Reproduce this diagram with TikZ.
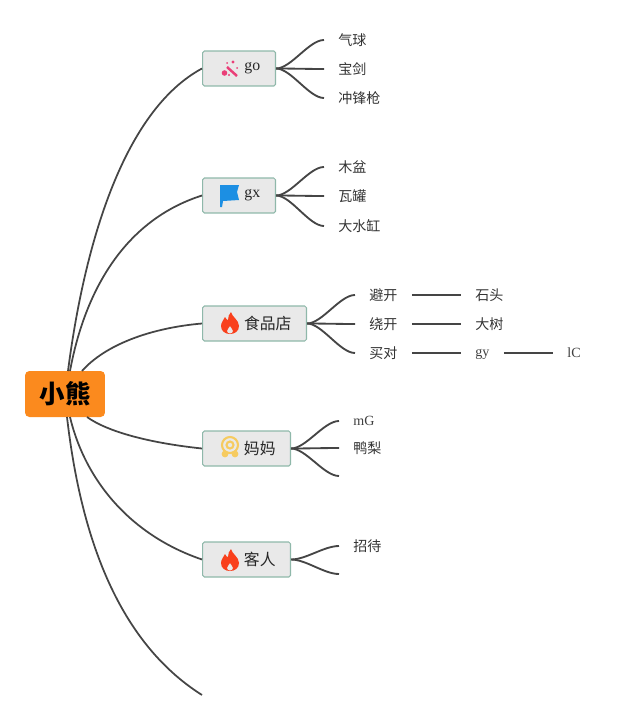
\documentclass[tikz,border=0pt]{standalone}
\usepackage{fontspec}
\setmainfont{Liberation Serif}
\newfontfamily\cjk{Noto Sans CJK SC}
\usepackage{xcolor}
\usetikzlibrary{calc}
\definecolor{rootorange}{HTML}{FB8A1E}
\definecolor{boxgray}{HTML}{E9E9E9}
\definecolor{boxgreen}{HTML}{8FB8AA}
\definecolor{linegray}{HTML}{454545}
\definecolor{flamered}{HTML}{F9401C}
\definecolor{wandpink}{HTML}{EA3F78}
\definecolor{flagblue}{HTML}{1C8FE3}
\definecolor{badgeyellow}{HTML}{F6CB60}
\tikzset{
  rootbox/.style={draw=none,fill=rootorange,rounded corners=2.5pt,minimum width=1.6cm,minimum height=0.92cm,inner sep=0pt,font=\cjk\bfseries\fontsize{14.5}{16}\selectfont,text=black},
  topic/.style={draw=boxgreen,fill=boxgray,line width=0.6pt,rounded corners=1pt,minimum height=0.7cm,inner ysep=0pt,inner xsep=0pt,anchor=west,align=left,font=\cjk\fontsize{9}{11}\selectfont,text=black!85},
  leaf/.style={inner xsep=0.28cm,inner ysep=1pt,anchor=west,font=\cjk\fontsize{8}{10}\selectfont,text=black!80},
  latin/.style={font=\fontsize{8}{10}\selectfont,text=black!75,text depth=0pt},
  limb/.style={draw=linegray,line width=1pt},
  twig/.style={draw=linegray,line width=1.05pt}
}
\newcommand{\flameicon}[1]{
  \fill[flamered,shift={(#1)},even odd rule] (1,-11) .. controls (2,-6) and (9,-3) .. (9,3) .. controls (9,8) and (5,11) .. (0,11) .. controls (-5,11) and (-9,8) .. (-9,3) .. controls (-9,-1) and (-6,-3) .. (-5,-6) .. controls (-4,-4) and (-3,-3) .. (-2,-3) .. controls (-2,-6) and (-1,-9) .. (1,-11) -- cycle
    (0,3) .. controls (1,5) and (3,6) .. (3,8) .. controls (3,10) and (1.5,10.5) .. (0,10.5) .. controls (-1.5,10.5) and (-3,10) .. (-3,8) .. controls (-3,6) and (-1,5) .. (0,3) -- cycle;
}
\begin{document}
\begin{tikzpicture}[x=0.02cm,y=-0.02cm]
\useasboundingbox (0,0) rectangle (640,720);
% main boxes
\node[rootbox] (bear) at (65,394) {小熊};
\node[topic,minimum width=1.46cm] (go) at (202,68.5) {\hspace{0.53cm}{\rmfamily go}};
\node[topic,minimum width=1.46cm] (gx) at (202,195.5) {\hspace{0.53cm}{\rmfamily gx}};
\node[topic,minimum width=2.08cm] (shop) at (202,323.5) {\hspace{0.53cm}食品店};
\node[topic,minimum width=1.76cm] (mom) at (202,448.5) {\hspace{0.53cm}妈妈};
\node[topic,minimum width=1.76cm] (guest) at (202,559.5) {\hspace{0.53cm}客人};
\coordinate (spare) at (202,695);
% leaves
\node[leaf] (balloon) at (324,40) {气球};
\node[leaf] (sword) at (324,69) {宝剑};
\node[leaf] (rifle) at (324,98) {冲锋枪};
\node[leaf] (basin) at (324,167) {木盆};
\node[leaf] (jar) at (324,196) {瓦罐};
\node[leaf] (vat) at (324,226) {大水缸};
\node[leaf] (dodge) at (355,295) {避开};
\node[leaf] (around) at (355,324) {绕开};
\node[leaf] (buy) at (355,353) {买对};
\node[leaf] (stone) at (461,295) {石头};
\node[leaf] (tree) at (461,324) {大树};
\node[leaf,latin] (gy) at (461,353) {gy};
\node[leaf,latin] (lc) at (553,353) {lC};
\node[leaf,latin] (mg) at (339,421) {mG};
\node[leaf] (duck) at (339,448) {鸭梨};
\coordinate (momend) at (339,476);
\node[leaf] (host) at (339,546) {招待};
\coordinate (guestend) at (339,574);
% limbs
\draw[limb] (68,371) .. controls (85,240) and (125,110) .. (go.west);
\draw[limb] (70,371) .. controls (85,290) and (125,220) .. (gx.west);
\draw[limb] (82,371) .. controls (105,345) and (150,328) .. (shop.west);
\draw[limb] (87,417) .. controls (108,432) and (150,443) .. (mom.west);
\draw[limb] (70,417) .. controls (85,480) and (130,535) .. (guest.west);
\draw[limb] (67,417) .. controls (80,530) and (115,640) .. (spare);
% twigs
\foreach \leafname in {balloon,sword,rifle}
  \draw[twig] (go.east) .. controls +(15,0) and +(-15,0) .. (\leafname.west);
\foreach \leafname in {basin,jar,vat}
  \draw[twig] (gx.east) .. controls +(15,0) and +(-15,0) .. (\leafname.west);
\foreach \leafname in {dodge,around,buy}
  \draw[twig] (shop.east) .. controls +(15,0) and +(-15,0) .. (\leafname.west);
\foreach \leafname in {mg,duck,momend}
  \draw[twig] (mom.east) .. controls +(15,0) and +(-15,0) .. (\leafname.west |- \leafname);
\foreach \leafname in {host,guestend}
  \draw[twig] (guest.east) .. controls +(15,0) and +(-15,0) .. (\leafname.west |- \leafname);
\draw[twig] (dodge) -- (stone);
\draw[twig] (around) -- (tree);
\draw[twig] (buy.east) -- (gy.west);
\draw[twig] (gy.east) -- (lc.west);
% icons
\draw[wandpink,line width=1.4pt] (227,67) -- (237,76);
\fill[wandpink] (224.5,73) circle (2.8) (233,62) circle (1.6) (227,63) circle (1) (237,68) circle (1) (229,75) circle (1.2);
\fill[flagblue] (220,185) -- (239,185) -- (237,192) -- (239,200) -- (223,201) -- (222,207) -- (220,207) -- cycle;
\flameicon{230,323}
\flameicon{230,560}
\draw[badgeyellow,line width=1.2pt] (230,445) circle (8) (230,445) circle (3.5);
\fill[badgeyellow] (225,454) circle (3.4) (235,454) circle (3.4);
\end{tikzpicture}
\end{document}
